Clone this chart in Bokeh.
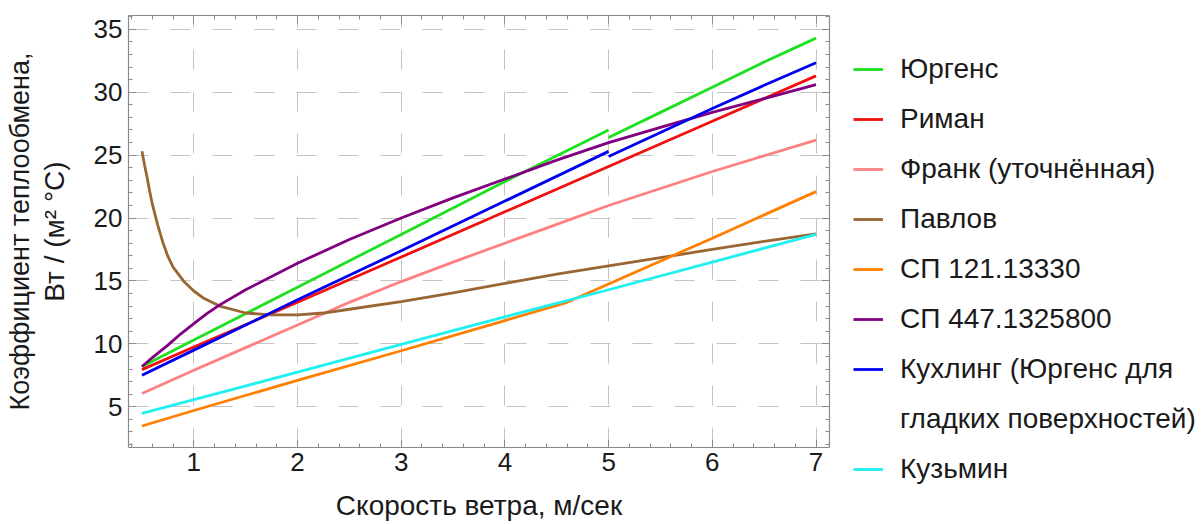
from bokeh.plotting import figure
from bokeh.layouts import row, column
from bokeh.models import (LinearAxis, Range1d, SingleIntervalTicker, FixedTicker,
                          Legend, LegendItem, Grid, CustomJSTickFormatter)
from bokeh.embed import file_html
from bokeh.resources import INLINE

FONT = "Liberation Sans"

# ---------------- data ----------------
jurgens_x1 = [0.5, 1.0, 2.0, 3.0, 4.0, 5.0]
jurgens_y1 = [8.2, 10.3, 14.5, 18.7, 22.9, 27.0]
jurgens_x2 = [5.0, 5.5, 6.0, 6.5, 7.0]
jurgens_y2 = [26.4, 28.4, 30.4, 32.4, 34.3]

riman_x = [0.5, 1.0, 2.0, 3.0, 4.0, 5.0, 6.0, 7.0]
riman_y = [7.95, 9.75, 13.3, 16.9, 20.5, 24.1, 27.7, 31.3]

frank_x = [0.5, 1.0, 1.5, 2.0, 2.5, 3.0, 3.5, 4.0, 4.5, 5.0, 5.5, 6.0, 6.5, 7.0]
frank_y = [6.05, 7.9, 9.7, 11.5, 13.3, 14.95, 16.5, 18.0, 19.5, 21.0, 22.35, 23.7, 24.95, 26.2]

pavlov_x = [0.5, 0.525, 0.55, 0.575, 0.6, 0.65, 0.7, 0.75, 0.8, 0.9, 1.0, 1.1, 1.25, 1.5,
            1.75, 2.0, 2.25, 2.5, 3.0, 3.5, 4.0, 4.5, 5.0, 5.5, 6.0, 6.5, 7.0]
pavlov_y = [25.3, 24.2, 23.2, 22.1, 21.1, 19.5, 18.1, 16.95, 16.1, 15.0, 14.2, 13.6, 13.0,
            12.45, 12.3, 12.3, 12.45, 12.75, 13.35, 14.05, 14.8, 15.55, 16.2, 16.85, 17.5,
            18.15, 18.75]

sp121_x = [0.5, 1.0, 2.0, 3.0, 4.0, 4.6, 5.0, 6.0, 7.0]
sp121_y = [3.47, 4.7, 7.1, 9.45, 11.85, 13.3, 14.75, 18.4, 22.1]

sp447_x = [0.5, 0.6, 0.75, 0.875, 1.0, 1.125, 1.25, 1.5, 2.0, 2.5, 3.0, 3.5, 4.0, 4.5,
           5.0, 5.5, 6.0, 6.5, 7.0]
sp447_y = [8.2, 8.9, 9.9, 10.8, 11.6, 12.4, 13.1, 14.3, 16.4, 18.3, 20.0, 21.6, 23.1, 24.6,
           26.0, 27.2, 28.4, 29.5, 30.6]

kuhl_x1 = [0.5, 1.0, 2.0, 3.0, 4.0, 5.0]
kuhl_y1 = [7.5, 9.5, 13.5, 17.4, 21.35, 25.3]
kuhl_x2 = [5.0, 5.5, 6.0, 6.5, 7.0]
kuhl_y2 = [24.9, 26.8, 28.7, 30.55, 32.35]

kuzmin_x = [0.5, 1.0, 2.0, 3.0, 4.0, 5.0, 6.0, 7.0]
kuzmin_y = [4.47, 5.56, 7.75, 9.95, 12.15, 14.3, 16.5, 18.7]

labels = ["Юргенс", "Риман", "Франк (уточнённая)", "Павлов", "СП 121.13330",
          "СП 447.1325800", "Кухлинг (Юргенс для", "гладких поверхностей)", "Кузьмин"]
colors = ["#1fe01f", "#f01010", "#ff8080", "#996633", "#ff8000",
          "#800080", "#0000f0", "#0000f0", "#20f0f0"]

x_label = "Скорость ветра, м/сек"
y_label1 = "Коэффициент теплообмена,"
y_label2 = "Вт / (м² °C)"

series = [
    [(jurgens_x1, jurgens_y1), (jurgens_x2, jurgens_y2)],
    [(riman_x, riman_y)],
    [(frank_x, frank_y)],
    [(pavlov_x, pavlov_y)],
    [(sp121_x, sp121_y)],
    [(sp447_x, sp447_y)],
    [(kuhl_x1, kuhl_y1), (kuhl_x2, kuhl_y2)],
    [],
    [(kuzmin_x, kuzmin_y)],
]

# ---------------- main figure ----------------
H = 523
PW = 835
p = figure(width=PW, height=H, x_range=Range1d(0.37, 7.13), y_range=Range1d(1.76, 36.1),
           output_backend="svg", toolbar_location=None, title=None,
           x_axis_type=None, y_axis_type=None,
           min_border_left=128, min_border_top=15, min_border_bottom=H - 449,
           min_border_right=PW - 829)
p.outline_line_color = None

xt = SingleIntervalTicker(interval=1, num_minor_ticks=5)
yt = SingleIntervalTicker(interval=5, num_minor_ticks=5)

FRAME = "#8a8a8a"
TXT = "#1a1a1a"
blank = CustomJSTickFormatter(code="return ''")


def style_axis(ax, labels_on):
    ax.axis_line_color = FRAME
    ax.axis_line_width = 1.2
    ax.major_tick_in = 8
    ax.major_tick_out = 0
    ax.minor_tick_in = 4
    ax.minor_tick_out = 0
    ax.major_tick_line_color = FRAME
    ax.minor_tick_line_color = FRAME
    if labels_on:
        ax.major_label_text_font = FONT
        ax.major_label_text_font_size = "26px"
        ax.major_label_text_color = TXT
    else:
        ax.formatter = blank
        ax.major_label_standoff = 0


def style_label(ax, text, size, standoff):
    ax.axis_label = text
    ax.axis_label_text_font = FONT
    ax.axis_label_text_font_size = size
    ax.axis_label_text_font_style = "normal"
    ax.axis_label_text_color = TXT
    ax.axis_label_standoff = standoff


xb = LinearAxis(ticker=xt)
style_axis(xb, True)
xb.major_label_standoff = 5
style_label(xb, x_label, "28px", 16)
p.add_layout(xb, "below")

yl = LinearAxis(ticker=yt)
style_axis(yl, True)
yl.major_label_standoff = 6
style_label(yl, y_label2, "28px", 21)
p.add_layout(yl, "left")

yl2 = LinearAxis(ticker=FixedTicker(ticks=[]))
yl2.axis_line_color = None
yl2.major_tick_line_color = None
yl2.minor_tick_line_color = None
yl2.major_tick_in = 0
yl2.major_tick_out = 0
yl2.minor_tick_in = 0
yl2.minor_tick_out = 0
yl2.major_label_standoff = 0
style_label(yl2, y_label1, "27px", 1)
p.add_layout(yl2, "left")

xtop = LinearAxis(ticker=xt)
style_axis(xtop, False)
p.add_layout(xtop, "above")
yr = LinearAxis(ticker=yt)
style_axis(yr, False)
p.add_layout(yr, "right")

for dim, tk in ((0, xt), (1, yt)):
    g = Grid(dimension=dim, ticker=tk, grid_line_color="#c4c4c4", grid_line_width=1,
             grid_line_dash="20 22")
    p.add_layout(g, "center")

LW = 2.8
for segs, col in zip(series, colors):
    for xs, ys in segs:
        p.line(xs, ys, line_color=col, line_width=LW)

# ---------------- legend panel (curves out of its view, legend only) ----------------
LWID = 1202 - PW
q = figure(width=LWID, height=H, x_range=Range1d(0, 1), y_range=Range1d(0, 1),
           output_backend="svg", toolbar_location=None, title=None,
           x_axis_type=None, y_axis_type=None,
           min_border_left=0, min_border_right=0, min_border_top=0, min_border_bottom=0)
q.outline_line_color = None

items = []
for lab, segs, col in zip(labels, series, colors):
    if segs:
        xs, ys = segs[0]
        r = q.line(xs, ys, line_color=col, line_width=LW)
    else:
        r = q.line(kuhl_x1, kuhl_y1, line_color=col, line_alpha=0, line_width=LW)
    items.append(LegendItem(label=lab, renderers=[r]))

legend = Legend(items=items, location=(18, H - 450 - 44),
                label_text_font=FONT, label_text_font_size="28px", label_text_color=TXT,
                glyph_width=30, glyph_height=50, label_height=50, label_standoff=17,
                spacing=0, padding=0, margin=0,
                border_line_color=None, background_fill_alpha=0)
q.add_layout(legend, "center")

layout = row(p, column(q), spacing=0)
open("out.html", "w").write(file_html(layout, INLINE))
